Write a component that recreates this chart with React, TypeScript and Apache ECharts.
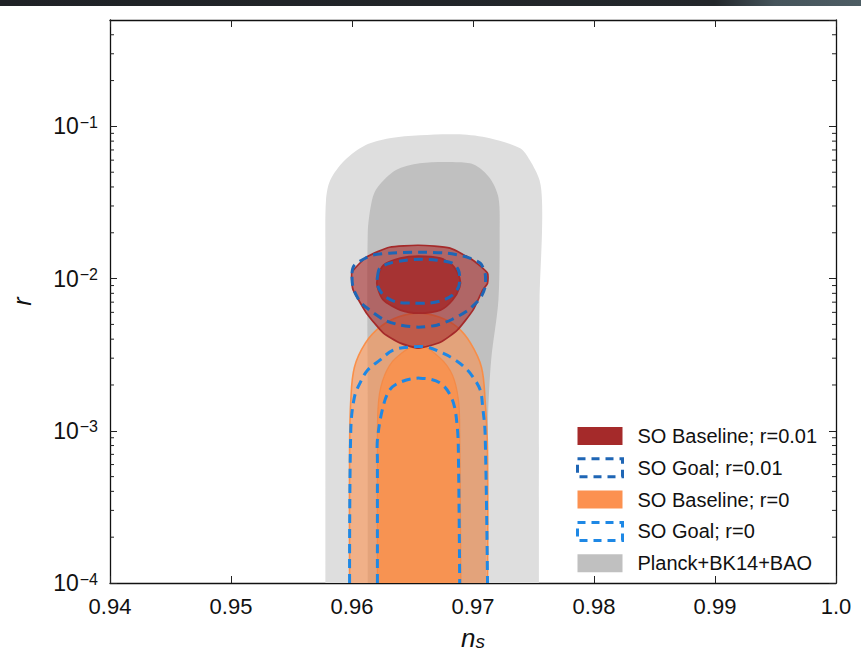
import React, { useEffect, useRef } from 'react';
import * as echarts from 'echarts';

// ---------- axes ----------
const xTickLabels = ['0.94', '0.95', '0.96', '0.97', '0.98', '0.99', '1.0'];
const yTickExponents = [-4, -3, -2, -1];
const NS_MIN = 0.94;
const NS_MAX = 1.0;
const LOGR_MIN = -4;
const LOGR_MAX = Math.log10(0.5);
// minor ticks of the log axis: k * 10^n
const minorMantissas = [2, 3, 4, 5, 6, 7, 8, 9];
const minorDecades = [-4, -3, -2, -1];

// ---------- contours, points are [n_s, log10 r] ----------
const planckOuter68_95 = [
  [0.9578, -4], [0.9578, -2.798], [0.9578, -1.814], [0.95785, -1.485], [0.9582, -1.354],
  [0.9594, -1.223], [0.9611, -1.124], [0.9631, -1.078], [0.9656, -1.058], [0.9689, -1.052],
  [0.9714, -1.078], [0.9739, -1.144], [0.9747, -1.223], [0.9755, -1.354], [0.9757, -1.485],
  [0.9757, -1.702], [0.9755, -2.142], [0.97545, -3.127], [0.97545, -4],
];
const planckInner68 = [
  [0.9613, -4], [0.9613, -2.798], [0.9613, -1.702], [0.96165, -1.485], [0.9621, -1.401],
  [0.9636, -1.288], [0.9656, -1.242], [0.9689, -1.236], [0.9702, -1.255], [0.9714, -1.341],
  [0.9721, -1.466], [0.9722, -1.683], [0.9721, -2.142], [0.9715, -2.536], [0.97124, -2.93],
  [0.97107, -4],
];
const soBaseR001Outer = [
  [0.96, -1.958], [0.9612, -1.859], [0.9631, -1.794], [0.9655, -1.781], [0.9681, -1.8],
  [0.97, -1.879], [0.9712, -1.965], [0.9712, -2.03], [0.9708, -2.076], [0.97, -2.207],
  [0.9687, -2.339], [0.9673, -2.418], [0.9655, -2.457], [0.964, -2.424], [0.9626, -2.358],
  [0.9612, -2.227], [0.9601, -2.076], [0.96, -2.03],
];
const soBaseR001Inner = [
  [0.9621, -1.997], [0.9626, -1.912], [0.964, -1.866], [0.9655, -1.853], [0.9673, -1.866],
  [0.9683, -1.912], [0.9689, -1.997], [0.9689, -2.056], [0.9683, -2.142], [0.9673, -2.207],
  [0.9655, -2.227], [0.964, -2.207], [0.9626, -2.142], [0.9621, -2.056],
];
const soGoalR001Outer = [
  [0.96, -1.965], [0.9602, -1.912], [0.9611, -1.866], [0.9617, -1.846], [0.9631, -1.833],
  [0.9655, -1.827], [0.9679, -1.833], [0.9695, -1.859], [0.9706, -1.899], [0.971, -1.965],
  [0.971, -2.056], [0.9706, -2.129], [0.9696, -2.207], [0.9683, -2.267], [0.967, -2.306],
  [0.9655, -2.319], [0.964, -2.306], [0.9627, -2.273], [0.9617, -2.221], [0.9607, -2.155],
  [0.9601, -2.063],
];
const soGoalR001Inner = [
  [0.9621, -1.991], [0.9623, -1.932], [0.9631, -1.899], [0.9645, -1.879], [0.9658, -1.873],
  [0.967, -1.879], [0.9683, -1.899], [0.9688, -1.945], [0.9689, -1.997], [0.9688, -2.056],
  [0.9683, -2.109], [0.9675, -2.142], [0.9664, -2.161], [0.965, -2.161], [0.9637, -2.155],
  [0.9626, -2.109], [0.9621, -2.043],
];
const soBaseR0Outer = [
  [0.9598, -4], [0.9598, -3.127], [0.9599, -2.798], [0.9602, -2.582], [0.9611, -2.424],
  [0.9623, -2.319], [0.9638, -2.253], [0.9655, -2.227], [0.9672, -2.253], [0.9687, -2.319],
  [0.9698, -2.424], [0.9707, -2.582], [0.971, -2.798], [0.9712, -3.127], [0.9712, -4],
];
const soBaseR0Inner = [
  [0.9621, -4], [0.9621, -3.127], [0.9622, -2.798], [0.9627, -2.634], [0.9636, -2.523],
  [0.9655, -2.437], [0.9673, -2.523], [0.9683, -2.634], [0.9688, -2.798], [0.9689, -2.995],
  [0.969, -4],
];
const soGoalR0Outer = [
  [0.9598, -4], [0.9599, -2.995], [0.9602, -2.779], [0.9607, -2.68], [0.9613, -2.601],
  [0.9623, -2.536], [0.9634, -2.47], [0.9648, -2.45], [0.9662, -2.45], [0.9673, -2.483],
  [0.9683, -2.523], [0.9693, -2.582], [0.97, -2.647], [0.9706, -2.733], [0.9708, -2.844],
  [0.971, -3.015], [0.9712, -4],
];
const soGoalR0Inner = [
  [0.9621, -4], [0.9621, -3.192], [0.9621, -3.061], [0.9625, -2.864], [0.9631, -2.733],
  [0.964, -2.68], [0.9656, -2.654], [0.9673, -2.687], [0.9683, -2.798], [0.9687, -2.976],
  [0.9688, -3.192], [0.9689, -4],
];

const legendNames = [
  'SO Baseline; r=0.01',
  'SO Goal; r=0.01',
  'SO Baseline; r=0',
  'SO Goal; r=0',
  'Planck+BK14+BAO',
];

const FONT = 'Liberation Sans, Arial, sans-serif';

function shape(name: string, pts: number[][], kind: string, style: any, smooth = 0.35) {
  return {
    type: 'custom',
    name,
    coordinateSystem: 'cartesian2d',
    xAxisIndex: 0,
    yAxisIndex: 0,
    silent: true,
    data: pts,
    itemStyle: { color: style.fill && style.fill !== 'none' ? style.fill : style.stroke },
    renderItem: (params: any, api: any) => {
      if (params.dataIndex !== 0) return null;
      const points = pts.map((p) => api.coord(p));
      return { type: kind, shape: { points, smooth }, style };
    },
  };
}

function buildOption() {
  const minorTicks: number[] = [];
  minorDecades.forEach((d) =>
    minorMantissas.forEach((m) => {
      const v = Math.log10(m) + d;
      if (v < LOGR_MAX - 0.01) minorTicks.push(v);
    })
  );

  const axisLine = { show: true, lineStyle: { color: '#111', width: 1.3 } };
  const tickStyle = { show: true, inside: true, length: 7, lineStyle: { color: '#222', width: 1 } };

  const dashR001 = '#1f66b5';
  const dashR0 = '#1e88e5';
  const dash = [9, 6];

  return {
    animation: false,
    backgroundColor: '#ffffff',
    grid: { left: 110, right: 25, top: 20, bottom: 83, containLabel: false },
    graphic: [
      {
        type: 'rect',
        left: 0,
        top: 0,
        shape: { x: 0, y: 0, width: 861, height: 6 },
        style: {
          fill: new echarts.graphic.LinearGradient(0, 0, 1, 0, [
            { offset: 0, color: '#1f2226' },
            { offset: 0.83, color: '#23272b' },
            { offset: 0.9, color: '#45545b' },
            { offset: 1, color: '#4d5d64' },
          ]),
        },
        silent: true,
      },
    ],
    xAxis: [
      {
        type: 'value',
        min: NS_MIN,
        max: NS_MAX,
        interval: 0.01,
        position: 'bottom',
        axisLine,
        axisTick: tickStyle,
        splitLine: { show: false },
        axisLabel: {
          margin: 12,
          fontSize: 22,
          fontFamily: FONT,
          color: '#111',
          formatter: (v: number) => {
            const l = xTickLabels.find((t) => Math.abs(parseFloat(t) - v) < 1e-6);
            return l ?? '';
          },
        },
        name: '{n|n}{s|s}',
        nameLocation: 'middle',
        nameGap: 42,
        nameTextStyle: {
          rich: {
            n: { fontSize: 26, fontStyle: 'italic', fontFamily: FONT, color: '#111', verticalAlign: 'top', lineHeight: 26 },
            s: { fontSize: 19, fontStyle: 'italic', fontFamily: FONT, color: '#111', verticalAlign: 'bottom', lineHeight: 18, padding: [10, 0, 0, 0] },
          },
        },
      },
      {
        type: 'value',
        min: NS_MIN,
        max: NS_MAX,
        interval: 0.01,
        position: 'top',
        axisLine,
        axisTick: tickStyle,
        splitLine: { show: false },
        axisLabel: { show: false },
      },
    ],
    yAxis: [
      {
        type: 'value',
        min: LOGR_MIN,
        max: LOGR_MAX,
        interval: 1,
        position: 'left',
        axisLine,
        axisTick: tickStyle,
        splitLine: { show: false },
        axisLabel: {
          margin: 12,
          showMaxLabel: false,
          formatter: (v: number) => {
            const e = yTickExponents.find((t) => Math.abs(t - v) < 1e-6);
            return e === undefined ? '' : `{b|10}{s|\u2212${-e}}`;
          },
          rich: {
            b: { fontSize: 23, fontFamily: FONT, color: '#111', lineHeight: 24 },
            s: { fontSize: 16, fontFamily: FONT, color: '#111', verticalAlign: 'top', lineHeight: 14, padding: [0, 0, 0, 1] },
          },
        },
        name: 'r',
        nameLocation: 'middle',
        nameRotate: 90,
        nameGap: 76,
        nameTextStyle: { fontSize: 25, fontStyle: 'italic', fontFamily: FONT, color: '#111' },
      },
      {
        type: 'value',
        min: LOGR_MIN,
        max: LOGR_MAX,
        interval: 1,
        position: 'right',
        axisLine,
        axisTick: tickStyle,
        splitLine: { show: false },
        axisLabel: { show: false },
      },
    ],
    legend: {
      orient: 'vertical',
      left: 576,
      top: 426,
      itemWidth: 45,
      itemHeight: 18,
      itemGap: 11.3,
      selectedMode: false,
      padding: 0,
      textStyle: { fontSize: 20, fontFamily: FONT, color: '#111', padding: [0, 0, 0, 10] },
      data: [
        { name: legendNames[0], icon: 'rect', itemStyle: { color: '#a52a2a', borderWidth: 0 } },
        {
          name: legendNames[1],
          icon: 'rect',
          itemStyle: { color: 'rgba(255,255,255,0)', borderColor: dashR001, borderWidth: 3, borderType: [8, 6] },
        },
        { name: legendNames[2], icon: 'rect', itemStyle: { color: '#fc9150', borderWidth: 0 } },
        {
          name: legendNames[3],
          icon: 'rect',
          itemStyle: { color: 'rgba(255,255,255,0)', borderColor: dashR0, borderWidth: 3, borderType: [8, 6] },
        },
        { name: legendNames[4], icon: 'rect', itemStyle: { color: '#c0c0c0', borderWidth: 0 } },
      ],
    },
    series: [
      shape(legendNames[4], planckOuter68_95, 'polyline', { fill: '#dedede', stroke: 'none' }, 0.3),
      shape(legendNames[4], planckInner68, 'polyline', { fill: '#c0c0c0', stroke: 'none' }, 0.3),
      shape(legendNames[2], soBaseR0Outer, 'polyline', { fill: 'rgba(254,141,71,0.57)', stroke: 'rgba(252,138,62,0.9)', lineWidth: 1.6 }),
      shape(legendNames[2], soBaseR0Inner, 'polyline', { fill: 'rgba(250,145,75,0.85)', stroke: 'rgba(245,135,65,0.8)', lineWidth: 1.2 }),
      shape(legendNames[0], soBaseR001Outer, 'polygon', { fill: 'rgba(165,42,42,0.6)', stroke: '#a52a2a', lineWidth: 1.7 }, 0.18),
      shape(legendNames[0], soBaseR001Inner, 'polygon', { fill: 'rgba(165,42,42,0.85)', stroke: '#a52a2a', lineWidth: 1.7 }, 0.25),
      shape(legendNames[3], soGoalR0Outer, 'polyline', { fill: 'none', stroke: dashR0, lineWidth: 3, lineDash: dash }),
      shape(legendNames[3], soGoalR0Inner, 'polyline', { fill: 'none', stroke: dashR0, lineWidth: 3, lineDash: dash }),
      shape(legendNames[1], soGoalR001Outer, 'polygon', { fill: 'none', stroke: dashR001, lineWidth: 3, lineDash: dash }, 0.25),
      shape(legendNames[1], soGoalR001Inner, 'polygon', { fill: 'none', stroke: dashR001, lineWidth: 3, lineDash: dash }, 0.3),
      {
        type: 'custom',
        coordinateSystem: 'cartesian2d',
        xAxisIndex: 0,
        yAxisIndex: 0,
        silent: true,
        z: 5,
        data: minorTicks.map((v) => [NS_MIN, v]),
        renderItem: (params: any, api: any) => {
          const v = api.value(1);
          const a = api.coord([NS_MIN, v]);
          const b = api.coord([NS_MAX, v]);
          const st = { stroke: '#222', lineWidth: 1 };
          return {
            type: 'group',
            children: [
              { type: 'line', shape: { x1: a[0], y1: a[1], x2: a[0] + 4, y2: a[1] }, style: st },
              { type: 'line', shape: { x1: b[0] - 4, y1: b[1], x2: b[0], y2: b[1] }, style: st },
            ],
          };
        },
      },
    ],
  };
}

export default function App() {
  const ref = useRef<HTMLDivElement>(null);
  useEffect(() => {
    if (!ref.current) return;
    const chart = echarts.init(ref.current, null, { renderer: 'svg' });
    chart.setOption(buildOption() as any);
    return () => chart.dispose();
  }, []);
  return (
    <div
      ref={ref}
      style={{ position: 'fixed', left: 0, top: 0, width: 861, height: 666, background: '#ffffff' }}
    />
  );
}
